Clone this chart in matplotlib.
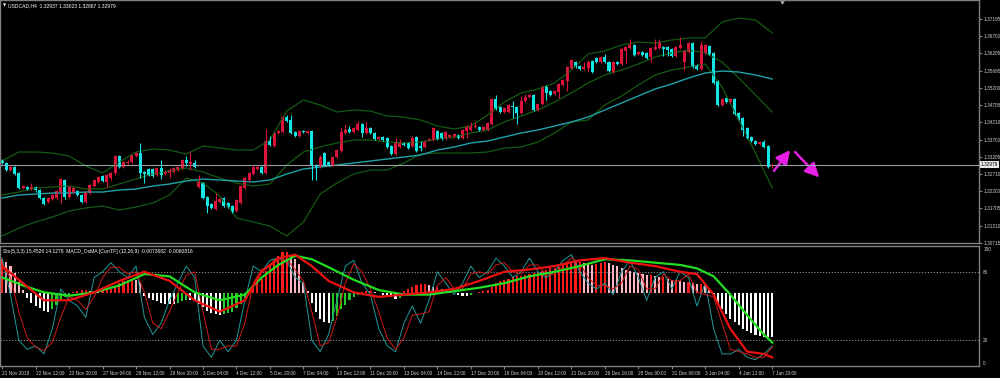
import numpy as np
import matplotlib.pyplot as plt
from matplotlib.patches import FancyArrowPatch

# USDCAD H4 candles, 21 Nov 2018 .. 7 Jan 2019 (one entry per bar)
opens = [1.33110, 1.33023, 1.32820, 1.32907, 1.32733, 1.32298, 1.32327, 1.32269, 1.32327, 1.32240,
         1.32008, 1.31892, 1.31979, 1.32008, 1.32182, 1.32530, 1.32037, 1.32182, 1.32211, 1.32095,
         1.31892, 1.32153, 1.32356, 1.32472, 1.32646, 1.32472, 1.32588, 1.32733, 1.33226, 1.32907,
         1.33023, 1.33052, 1.33226, 1.33313, 1.32762, 1.32849, 1.32849, 1.32675, 1.32878, 1.32704,
         1.32733, 1.32762, 1.32820, 1.32878, 1.33110, 1.32994, 1.33023, 1.32327, 1.32443, 1.32037,
         1.31834, 1.31689, 1.31892, 1.32008, 1.31863, 1.31776, 1.31631, 1.31863, 1.32298, 1.32530,
         1.32704, 1.32849, 1.32907, 1.32733, 1.33661, 1.33516, 1.33893, 1.33922, 1.34357, 1.34270,
         1.33922, 1.33806, 1.33951, 1.33893, 1.33951, 1.32965, 1.32936, 1.33313, 1.33052, 1.32965,
         1.33197, 1.33371, 1.33893, 1.34009, 1.33922, 1.33980, 1.34154, 1.33893, 1.34038, 1.33893,
         1.33719, 1.33777, 1.33748, 1.33516, 1.33284, 1.33487, 1.33603, 1.33603, 1.33516, 1.33777,
         1.33516, 1.33487, 1.33690, 1.33690, 1.33951, 1.33893, 1.33719, 1.33777, 1.33777, 1.33835,
         1.33748, 1.33951, 1.33980, 1.34067, 1.34067, 1.33980, 1.33980, 1.34154, 1.34879, 1.34647,
         1.34502, 1.34502, 1.34676, 1.34647, 1.34473, 1.34821, 1.34937, 1.34995, 1.34560, 1.34734,
         1.35227, 1.35111, 1.35024, 1.35082, 1.35285, 1.35401, 1.35778, 1.35952, 1.35836, 1.35749,
         1.35778, 1.35981, 1.36068, 1.35952, 1.36097, 1.35952, 1.35662, 1.35952, 1.35894, 1.36271,
         1.36358, 1.36445, 1.36184, 1.36242, 1.36213, 1.36097, 1.36329, 1.36358, 1.36387, 1.36387,
         1.36329, 1.36126, 1.36358, 1.35952, 1.36242, 1.36503, 1.35865, 1.35749, 1.36213, 1.36416,
         1.36213, 1.35401, 1.34705, 1.34908, 1.34792, 1.34879, 1.34473, 1.34328, 1.34038, 1.33777,
         1.33661, 1.33574, 1.33632, 1.33516, 1.32937]
highs = [1.33139, 1.33052, 1.32965, 1.32936, 1.32762, 1.32385, 1.32356, 1.32443, 1.32356, 1.32269,
         1.32037, 1.32037, 1.32124, 1.32240, 1.32588, 1.32559, 1.32356, 1.32327, 1.32240, 1.32124,
         1.32211, 1.32414, 1.32559, 1.32646, 1.32675, 1.32704, 1.32762, 1.33255, 1.33255, 1.33081,
         1.33110, 1.33284, 1.33342, 1.33603, 1.32791, 1.32878, 1.32878, 1.32907, 1.33110, 1.32820,
         1.32878, 1.32907, 1.32936, 1.33139, 1.33226, 1.33342, 1.33110, 1.32675, 1.32472, 1.32066,
         1.31863, 1.32153, 1.32008, 1.32037, 1.31892, 1.31805, 1.31979, 1.32385, 1.32617, 1.32762,
         1.32936, 1.32965, 1.32936, 1.34009, 1.33806, 1.33922, 1.33980, 1.34386, 1.34415, 1.34415,
         1.33951, 1.33980, 1.33980, 1.33980, 1.33980, 1.32994, 1.33255, 1.33342, 1.33081, 1.33226,
         1.33429, 1.34067, 1.34154, 1.34096, 1.34067, 1.34241, 1.34183, 1.34212, 1.34067, 1.33922,
         1.33806, 1.33806, 1.33777, 1.33545, 1.33748, 1.33719, 1.33632, 1.33632, 1.33806, 1.33806,
         1.33661, 1.33690, 1.33748, 1.34067, 1.33980, 1.33922, 1.33951, 1.33864, 1.33893, 1.33864,
         1.34009, 1.34125, 1.34212, 1.34212, 1.34096, 1.34096, 1.34212, 1.34908, 1.34995, 1.34676,
         1.34647, 1.34734, 1.34821, 1.34676, 1.34966, 1.35024, 1.35024, 1.35024, 1.34763, 1.35285,
         1.35285, 1.35140, 1.35140, 1.35343, 1.35459, 1.35836, 1.36039, 1.35981, 1.35865, 1.35952,
         1.36010, 1.36010, 1.36097, 1.36126, 1.36184, 1.35981, 1.35981, 1.35981, 1.36358, 1.36416,
         1.36619, 1.36474, 1.36271, 1.36271, 1.36242, 1.36387, 1.36619, 1.36619, 1.36416, 1.36416,
         1.36358, 1.36416, 1.36677, 1.36300, 1.36532, 1.36532, 1.35894, 1.36561, 1.36474, 1.36445,
         1.36242, 1.35430, 1.34908, 1.34937, 1.34908, 1.34908, 1.34502, 1.34357, 1.34067, 1.33806,
         1.33690, 1.33661, 1.33690, 1.33545, 1.33023]
lows = [1.32994, 1.32791, 1.32791, 1.32675, 1.32269, 1.32269, 1.32240, 1.32240, 1.32182, 1.31979,
        1.31805, 1.31863, 1.31950, 1.31979, 1.31863, 1.31979, 1.32008, 1.32153, 1.32066, 1.31863,
        1.31863, 1.32124, 1.32327, 1.32443, 1.32472, 1.32327, 1.32530, 1.32675, 1.32878, 1.32878,
        1.32994, 1.33023, 1.33197, 1.32588, 1.32443, 1.32646, 1.32617, 1.32646, 1.32559, 1.32675,
        1.32588, 1.32733, 1.32791, 1.32849, 1.32936, 1.32820, 1.32878, 1.32298, 1.31979, 1.31573,
        1.31689, 1.31660, 1.31863, 1.31747, 1.31718, 1.31573, 1.31602, 1.31834, 1.32269, 1.32501,
        1.32675, 1.32820, 1.32704, 1.32704, 1.33516, 1.33487, 1.33864, 1.33893, 1.34212, 1.33864,
        1.33777, 1.33777, 1.33893, 1.33864, 1.32530, 1.32530, 1.32878, 1.32936, 1.32936, 1.32936,
        1.33168, 1.33342, 1.33864, 1.33893, 1.33893, 1.33951, 1.33777, 1.33864, 1.33864, 1.33690,
        1.33690, 1.33661, 1.33458, 1.33255, 1.33255, 1.33458, 1.33516, 1.33429, 1.33487, 1.33342,
        1.33371, 1.33458, 1.33661, 1.33661, 1.33690, 1.33690, 1.33690, 1.33748, 1.33748, 1.33719,
        1.33719, 1.33748, 1.33951, 1.34038, 1.33951, 1.33951, 1.33951, 1.34125, 1.34560, 1.34473,
        1.34473, 1.34473, 1.34328, 1.34154, 1.34444, 1.34792, 1.34908, 1.34531, 1.34531, 1.34705,
        1.34850, 1.34966, 1.34995, 1.34908, 1.35256, 1.35111, 1.35749, 1.35778, 1.35720, 1.35720,
        1.35662, 1.35633, 1.35923, 1.35923, 1.35923, 1.35662, 1.35633, 1.35865, 1.35865, 1.35923,
        1.36329, 1.36126, 1.36155, 1.36126, 1.36039, 1.35952, 1.36300, 1.36329, 1.36126, 1.36126,
        1.36097, 1.36097, 1.36329, 1.35720, 1.36213, 1.35778, 1.35720, 1.35720, 1.36184, 1.36155,
        1.35314, 1.34676, 1.34676, 1.34763, 1.34763, 1.34415, 1.34270, 1.33806, 1.33719, 1.33632,
        1.33545, 1.33545, 1.33458, 1.32878, 1.32867]
closes = [1.33023, 1.32820, 1.32907, 1.32704, 1.32298, 1.32356, 1.32269, 1.32327, 1.32240, 1.32008,
          1.31834, 1.32008, 1.32095, 1.32211, 1.32559, 1.32037, 1.32327, 1.32298, 1.32095, 1.31892,
          1.32182, 1.32385, 1.32530, 1.32617, 1.32501, 1.32675, 1.32733, 1.33226, 1.32907, 1.33052,
          1.33052, 1.33255, 1.33313, 1.32733, 1.32704, 1.32675, 1.32646, 1.32878, 1.32675, 1.32762,
          1.32820, 1.32878, 1.32907, 1.33110, 1.33023, 1.33052, 1.32907, 1.32472, 1.32008, 1.31776,
          1.31718, 1.31921, 1.31979, 1.31776, 1.31747, 1.31602, 1.31950, 1.32356, 1.32588, 1.32733,
          1.32907, 1.32907, 1.32733, 1.33661, 1.33545, 1.33893, 1.33951, 1.34357, 1.34241, 1.33893,
          1.33806, 1.33951, 1.33922, 1.33951, 1.32965, 1.32907, 1.33197, 1.32965, 1.32965, 1.33197,
          1.33400, 1.33922, 1.33980, 1.33922, 1.34038, 1.34154, 1.33893, 1.34038, 1.33893, 1.33719,
          1.33777, 1.33690, 1.33487, 1.33284, 1.33632, 1.33632, 1.33545, 1.33458, 1.33748, 1.33371,
          1.33458, 1.33661, 1.33719, 1.34038, 1.33719, 1.33719, 1.33922, 1.33835, 1.33864, 1.33748,
          1.33980, 1.34096, 1.34096, 1.34096, 1.33980, 1.34067, 1.34183, 1.34879, 1.34589, 1.34502,
          1.34618, 1.34705, 1.34647, 1.34473, 1.34821, 1.34937, 1.34995, 1.34560, 1.34734, 1.35227,
          1.35053, 1.34995, 1.35111, 1.35314, 1.35430, 1.35807, 1.36010, 1.35807, 1.35749, 1.35807,
          1.35952, 1.35662, 1.35952, 1.36097, 1.35952, 1.35691, 1.35952, 1.35894, 1.36329, 1.36387,
          1.36445, 1.36155, 1.36242, 1.36155, 1.36068, 1.36358, 1.36387, 1.36532, 1.36329, 1.36300,
          1.36126, 1.36387, 1.36445, 1.36271, 1.36503, 1.35807, 1.35749, 1.36445, 1.36445, 1.36184,
          1.35343, 1.34705, 1.34879, 1.34792, 1.34879, 1.34444, 1.34299, 1.33980, 1.33748, 1.33661,
          1.33574, 1.33632, 1.33487, 1.32907, 1.32979]

# bands and moving average, read every 4th bar
band_bars = list(range(0, 185, 4))
bb_upper = [1.33081, 1.33342, 1.33342, 1.33313, 1.33226, 1.32936, 1.32733, 1.33052, 1.33342, 1.33429,
            1.33400, 1.33284, 1.33516, 1.33458, 1.33400, 1.33400, 1.33690, 1.34531, 1.34850, 1.34705,
            1.34502, 1.34560, 1.34531, 1.34386, 1.34357, 1.34270, 1.34096, 1.34009, 1.34096, 1.34415,
            1.34792, 1.35053, 1.35169, 1.35343, 1.35720, 1.36184, 1.36271, 1.36445, 1.36532, 1.36503,
            1.36590, 1.36648, 1.36648, 1.37112, 1.37228, 1.37170, 1.36793]
bb_middle = [1.32095, 1.32182, 1.32298, 1.32327, 1.32356, 1.32269, 1.32269, 1.32414, 1.32559, 1.32704,
             1.32791, 1.32878, 1.32762, 1.32588, 1.32443, 1.32356, 1.32414, 1.32965, 1.33342, 1.33487,
             1.33603, 1.33690, 1.33690, 1.33632, 1.33603, 1.33632, 1.33719, 1.33777, 1.33893, 1.33980,
             1.34212, 1.34386, 1.34560, 1.34792, 1.35053, 1.35343, 1.35575, 1.35720, 1.35894, 1.36097,
             1.36213, 1.36300, 1.36213, 1.35952, 1.35488, 1.34995, 1.34502]
bb_lower = [1.30906, 1.31138, 1.31312, 1.31457, 1.31631, 1.31718, 1.31776, 1.31660, 1.31747, 1.31863,
            1.32095, 1.32588, 1.32443, 1.32066, 1.31428, 1.31312, 1.31196, 1.30906, 1.31312, 1.32124,
            1.32443, 1.32704, 1.32820, 1.32820, 1.33023, 1.33284, 1.33313, 1.33313, 1.33313, 1.33342,
            1.33458, 1.33487, 1.33632, 1.33893, 1.34212, 1.34270, 1.34705, 1.34966, 1.35285, 1.35575,
            1.35720, 1.35807, 1.35894, 1.35227, 1.34270, 1.33313, 1.32298]
ma_slow = [1.32008, 1.32095, 1.32124, 1.32153, 1.32153, 1.32182, 1.32182, 1.32240, 1.32269, 1.32356,
           1.32414, 1.32501, 1.32559, 1.32530, 1.32501, 1.32472, 1.32530, 1.32704, 1.32849, 1.32907,
           1.32965, 1.33023, 1.33081, 1.33139, 1.33197, 1.33255, 1.33400, 1.33487, 1.33603, 1.33661,
           1.33777, 1.33893, 1.33980, 1.34096, 1.34212, 1.34357, 1.34560, 1.34763, 1.34966, 1.35169,
           1.35314, 1.35488, 1.35633, 1.35691, 1.35662, 1.35575, 1.35459]

# stochastic (5,3,3), read every 2nd bar
sto_bars = list(range(0, 185, 2))
sto_main = [92, 60, 20, 12, 15, 8, 30, 65, 55, 50, 40, 75, 80, 88, 80, 75, 85, 40, 25, 35,
            55, 70, 85, 75, 15, 5, 20, 10, 20, 55, 85, 80, 90, 92, 90, 75, 70, 20, 10, 25,
            55, 85, 90, 70, 60, 30, 15, 10, 35, 50, 35, 55, 80, 70, 60, 70, 85, 75, 80, 92,
            85, 75, 80, 92, 80, 75, 80, 90, 95, 80, 70, 65, 70, 60, 80, 90, 75, 55, 75, 80,
            65, 80, 75, 50, 70, 30, 8, 8, 12, 5, 3, 8, 15]
sto_signal = [85, 75, 45, 22, 14, 11, 18, 40, 58, 55, 47, 58, 75, 84, 84, 78, 80, 62, 35, 30,
              45, 62, 77, 80, 45, 12, 12, 15, 15, 35, 70, 82, 85, 90, 91, 82, 72, 45, 15, 18,
              40, 70, 87, 80, 65, 45, 22, 12, 22, 42, 43, 45, 68, 75, 65, 65, 78, 80, 78, 86,
              88, 80, 78, 86, 86, 78, 78, 85, 92, 88, 75, 68, 68, 65, 70, 85, 82, 65, 65, 78,
              72, 72, 78, 62, 60, 58, 35, 12, 10, 8, 5, 5, 14]

# OsMA histogram (panel units around its zero line), one per bar
osma = [30, 28, 24, 18, 10, 3,
        -4, -8, -11, -13, -15, -16, -14, -10, -6,
        -3, -1, 1, 2, 3, 3, 2, 2, 1, 2, 3, 4,
        6, 9, 11, 12, 13, 12, 10,
        -2, -4, -6, -7, -8, -9, -9, -9, -8, -7, -6, -6, -7,
        -9, -12, -15, -17, -18, -19, -18, -17, -16, -13, -9,
        -4, 2, 6, 10, 13,
        20, 26, 30, 33, 36, 36, 34, 30, 26,
        10, 2, -8, -16, -22, -25, -26, -24, -20,
        -14, -10, -6, -3, -1, 1, 2, 2, 1, 0, -1, -2, -3, -5, -4,
        2, 4, 6, 7, 8, 8, 7, 6, 6,
        4, 2, 1, 0, -1, -2, -2, -1, 0, 1, 2, 3,
        6, 9, 11, 12, 13, 14, 15, 15, 16, 17, 18, 18, 20, 21, 22, 22, 23, 25, 26, 27, 28, 28, 27, 26,
        25, 26, 27, 28, 27, 25, 24, 22, 21, 20,
        19, 18, 17, 16, 16, 15, 14, 14, 13, 12, 12, 11, 10, 10, 9, 8, 8, 7,
        4, -2, -8, -14, -18, -22, -25, -28, -31, -33, -35, -36, -37, -38, -38, -38]
osma_zero = 61

# the two thick smoothed lines of the OsMA indicator, read roughly
osc_bars = [0, 5, 10, 16, 22, 28, 34, 40, 46, 52, 58, 62, 66, 70, 74, 78, 84, 90, 96, 102, 108,
            114, 120, 126, 132, 138, 144, 150, 156, 162, 166, 170, 174, 178, 182, 184]
osc_fast = [85, 70, 55, 55, 62, 72, 80, 72, 55, 45, 55, 80, 92, 95, 85, 72, 62, 58, 60, 62, 65,
            72, 80, 82, 85, 90, 92, 88, 85, 80, 78, 60, 30, 10, 8, 5]
osc_slow = [75, 68, 62, 59, 62, 68, 78, 76, 62, 55, 60, 75, 86, 94, 91, 84, 73, 64, 60, 60, 63,
            66, 70, 76, 80, 85, 91, 90, 88, 86, 83, 76, 60, 42, 25, 18]

time_labels = ['21 Nov 2018', '22 Nov 12:00', '23 Nov 20:00', '27 Nov 04:00', '28 Nov 12:00',
               '29 Nov 20:00', '3 Dec 04:00', '4 Dec 12:00', '5 Dec 20:00', '7 Dec 04:00',
               '10 Dec 12:00', '11 Dec 20:00', '13 Dec 04:00', '14 Dec 12:00', '17 Dec 20:00',
               '19 Dec 04:00', '20 Dec 12:00', '21 Dec 20:00', '26 Dec 16:00', '28 Dec 00:00',
               '31 Dec 08:00', '3 Jan 04:00', '4 Jan 12:00', '7 Jan 20:00']
price_ticks = [1.37195, 1.36700, 1.36205, 1.35695, 1.35200, 1.34705, 1.34210,
               1.33700, 1.33205, 1.32710, 1.32200, 1.31705, 1.31210, 1.30715]
last_price = 1.32979
osc_levels = [20, 80]

# hand-drawn forecast arrows (bar index, price)
arrow_up = ((184.0, 1.32733), (188.7, 1.33461))
arrow_down = ((189.0, 1.33400), (195.7, 1.32546))

BULL = '#dc143c'
BEAR = '#14e6e6'
BAND = '#145a14'
MA_COL = '#1fa3a8'
GRID = '#808080'
TXT = '#d0d0d0'
FONT = 'Liberation Sans'
FS = 3.4

o = np.array(opens)
h = np.array(highs)
l = np.array(lows)
c = np.array(closes)
idx = np.arange(len(c))
up = c >= o
cols = np.where(up, BULL, BEAR)

fig = plt.figure(figsize=(10, 3.78), dpi=100, facecolor='black')
ax = fig.add_axes([0, 0.3571, 0.979, 0.6429])
ax2 = fig.add_axes([0, 0.0317, 0.979, 0.3175])

for a in (ax, ax2):
    a.set_facecolor('black')
    for s in a.spines.values():
        s.set_color(GRID)
        s.set_linewidth(1)
    a.set_xlim(-0.5, 233.4)

# main panel
ax.plot(band_bars, bb_upper, color=BAND, lw=0.9)
ax.plot(band_bars, bb_middle, color=BAND, lw=0.9)
ax.plot(band_bars, bb_lower, color=BAND, lw=0.9)
ax.plot(band_bars, ma_slow, color=MA_COL, lw=1.0)
ax.axhline(last_price, color='#9aa0a8', lw=0.8)

ax.vlines(idx, l, h, colors=cols, lw=0.8)
body = np.maximum(np.abs(c - o), 0.00004)
ax.bar(idx, body, bottom=np.minimum(o, c), width=0.72, color=cols, linewidth=0)

for (x0, y0), (x1, y1) in (arrow_up, arrow_down):
    ax.add_patch(FancyArrowPatch((x0, y0), (x1, y1), arrowstyle='-|>,head_length=6,head_width=3',
                                 color='#e61ee6', lw=1.8, mutation_scale=1.4))

ax.set_ylim(1.30703, 1.3775)
ax.yaxis.tick_right()
ax.set_yticks(price_ticks)
ax.set_yticklabels([f'{p:.5f}' for p in price_ticks])
ax.tick_params(axis='y', colors=GRID, labelcolor=TXT, labelsize=FS, length=2.5, width=0.8, pad=1)
ax.set_xticks([])
for lab in ax.get_yticklabels():
    lab.set_family(FONT)
ax.text(1.002, last_price, f'{last_price:.5f}', transform=ax.get_yaxis_transform(),
        fontsize=FS, family=FONT, color='black', va='center', ha='left',
        bbox=dict(boxstyle='square,pad=0.15', fc='#e8e8e8', ec='none'), clip_on=False)
ax.text(0.003, 0.985, '\u25bc', transform=ax.transAxes, fontsize=3, color='white', va='top')
ax.text(0.0085, 0.985, 'USDCAD,H4  1.32937 1.33023 1.32867 1.32979', transform=ax.transAxes,
        fontsize=3.6, family=FONT, color='white', va='top')
ax.plot([186.3], [1.3772], marker='v', ms=3.5, color='#a0a0a0', clip_on=False)

# oscillator panel
ax2.set_ylim(-2.6, 102.6)
for lv in osc_levels:
    ax2.axhline(lv, color='#a0a0a0', lw=0.6, ls=(0, (1.5, 2)))

hv = np.array(osma, dtype=float)
prev = np.concatenate([[hv[0]], hv[:-1]])
hcols = np.where(hv > 0, np.where(hv >= prev, '#ff1a1a', '#ffb6c1'),
                 np.where(hv <= prev, '#ffffff', '#22cc22'))
ax2.bar(idx, hv, bottom=osma_zero, width=0.5, color=hcols, linewidth=0)

ax2.plot(sto_bars, sto_main, color='#1f9a9a', lw=0.7)
ax2.plot(sto_bars, sto_signal, color='#d01818', lw=0.7)
ax2.plot(osc_bars, osc_slow, color='#22dd22', lw=1.6)
ax2.plot(osc_bars, osc_fast, color='#ee1111', lw=1.6)

ax2.yaxis.tick_right()
ax2.set_yticks([0, 20, 80, 100])
ax2.set_yticklabels(['0', '20', '80', '100'])
ax2.tick_params(axis='y', colors=GRID, labelcolor=TXT, labelsize=FS, length=0, pad=3)
for lab in ax2.get_yticklabels():
    lab.set_family(FONT)
ax2.set_xticks(np.arange(0, 185, 8))
ax2.set_xticklabels(time_labels, ha='left')
ax2.tick_params(axis='x', colors=GRID, labelcolor=TXT, labelsize=FS, length=2.5, width=0.8, pad=1)
for lab in ax2.get_xticklabels():
    lab.set_family(FONT)
ax2.text(0.003, 0.975, 'Sto(5,3,3) 15.4526 14.1278  MACD_OsMA [CurrTF] (12,26,9) -0.0073682 -0.0060816',
         transform=ax2.transAxes, fontsize=3.6, family=FONT, color='white', va='top')

fig.savefig('out.png', dpi=100, facecolor='black')
